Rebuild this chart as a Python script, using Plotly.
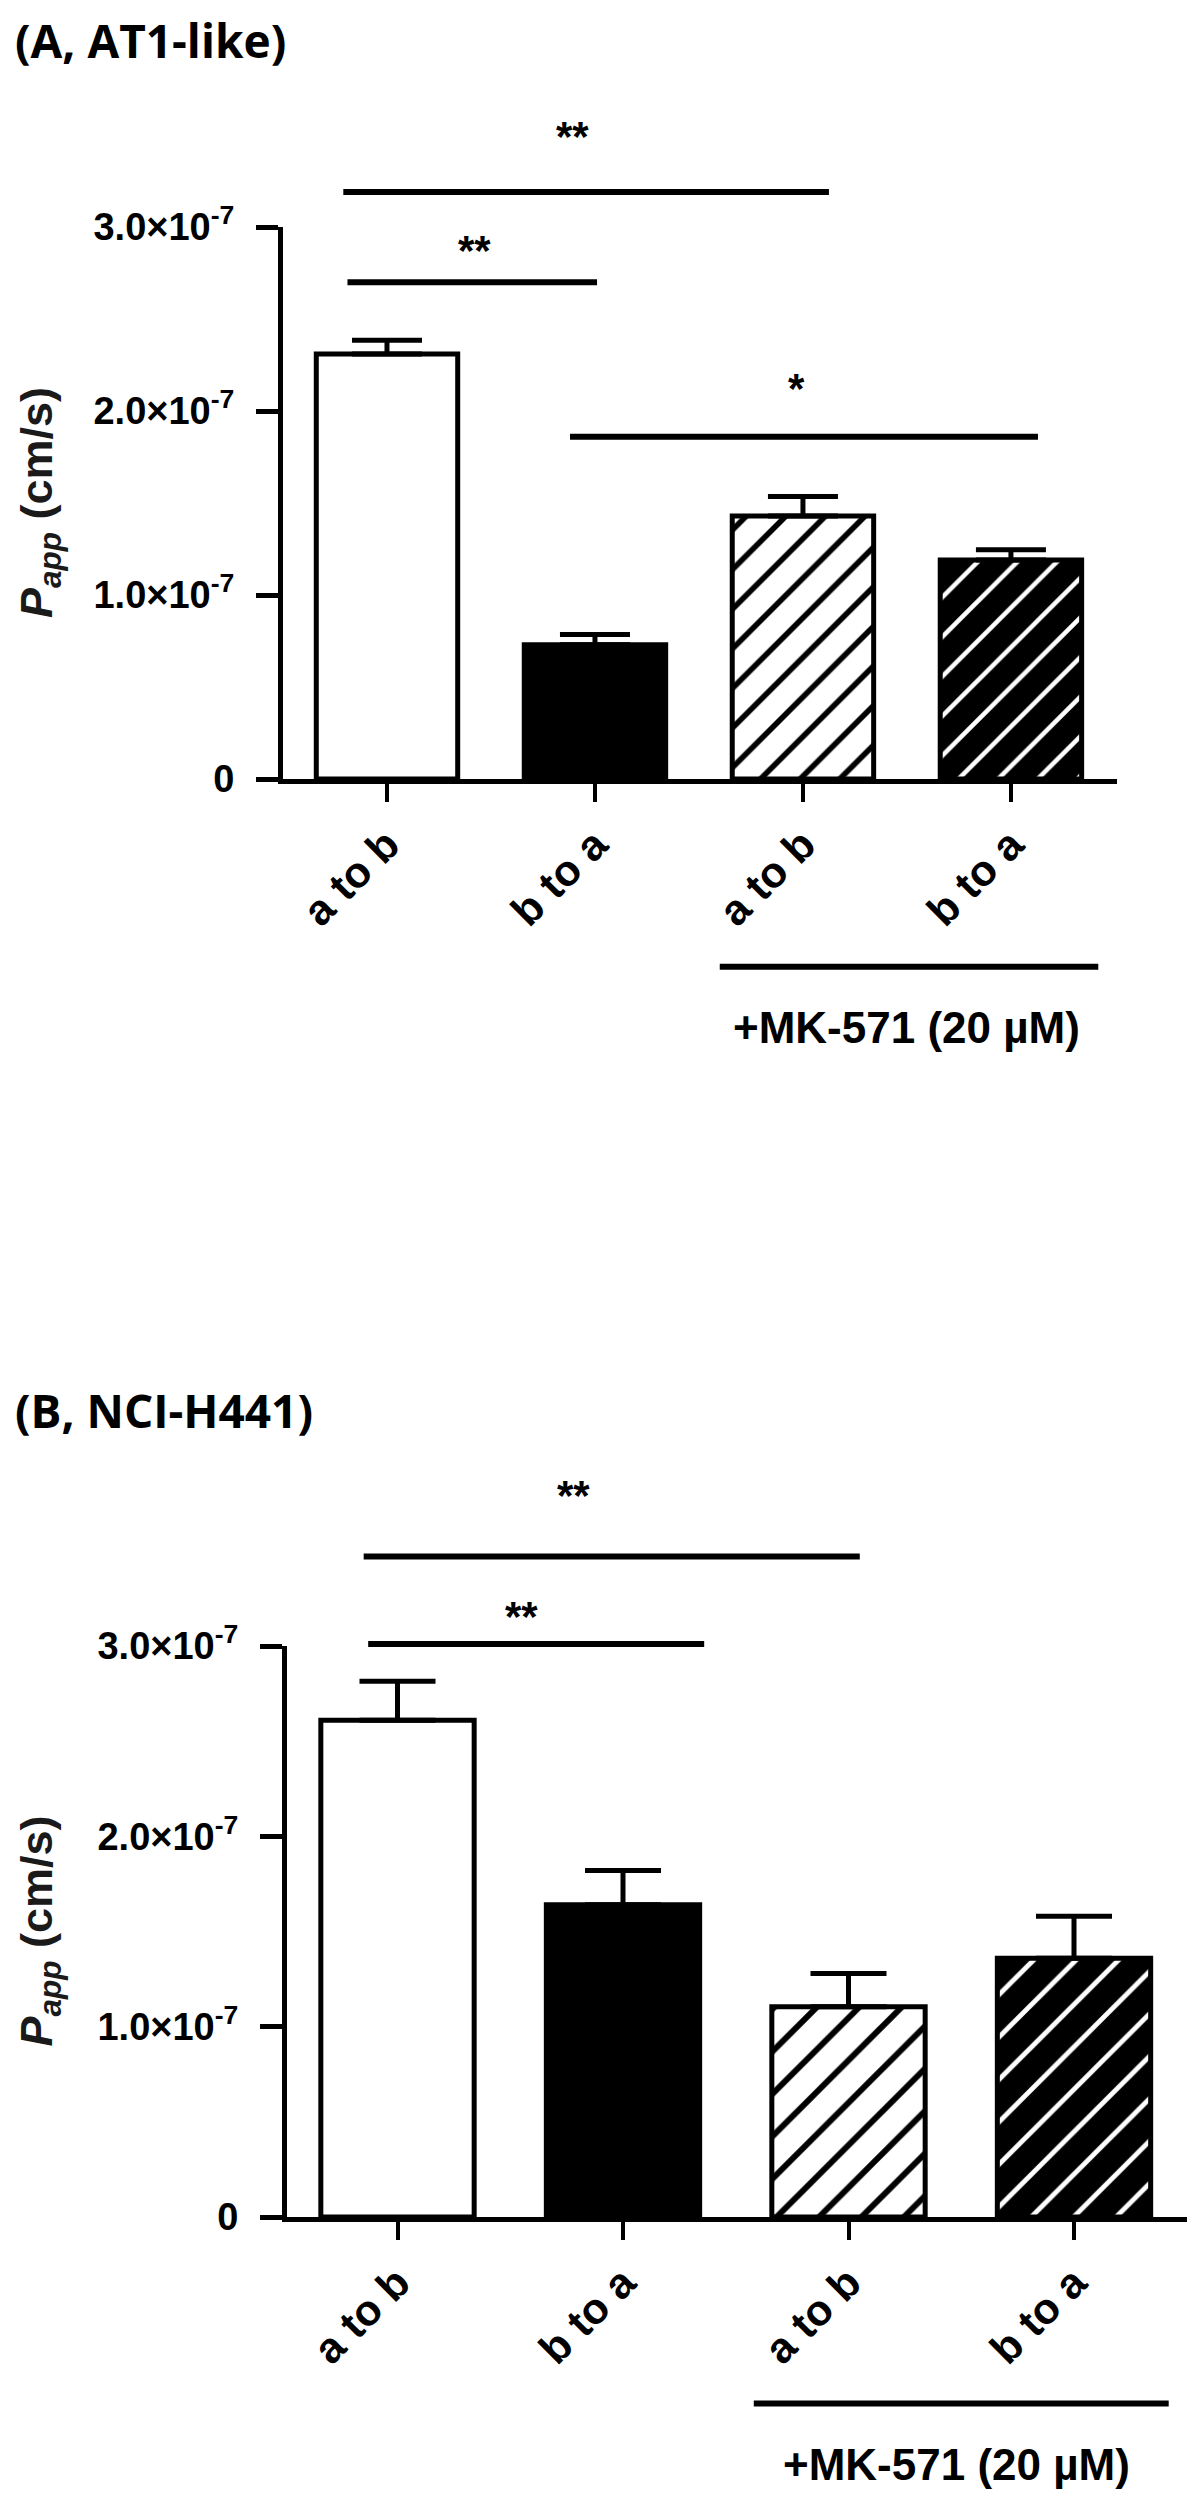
import plotly.graph_objects as go

# ---------------- data ----------------
categories = ["a to b", "b to a", "a to b", "b to a"]
x_pos = [0, 1, 2, 3]

a_means = [2.31e-7, 0.73e-7, 1.43e-7, 1.19e-7]
a_sem = [0.075e-7, 0.056e-7, 0.105e-7, 0.056e-7]
b_means = [2.61e-7, 1.64e-7, 1.105e-7, 1.36e-7]
b_sem = [0.205e-7, 0.18e-7, 0.174e-7, 0.22e-7]

y_tickvals = [0, 1e-7, 2e-7, 3e-7]
y_ticktext = ["0", "1.0\u00d710<sup>-7</sup>", "2.0\u00d710<sup>-7</sup>", "3.0\u00d710<sup>-7</sup>"]

# significance brackets: x0, x1, y, label, label_x, label_y
a_sig_x0 = [-0.19, -0.21, 0.88]
a_sig_x1 = [1.01, 2.125, 3.13]
a_sig_y = [2.70e-7, 3.19e-7, 1.86e-7]
a_sig_lbl = ["**", "**", "*"]
a_sig_lx = [0.42, 0.89, 1.97]
a_sig_ly = [2.92e-7, 3.54e-7, 2.17e-7]

b_sig_x0 = [-0.13, -0.15]
b_sig_x1 = [1.36, 2.05]
b_sig_y = [3.01e-7, 3.47e-7]
b_sig_lbl = ["**", "**"]
b_sig_lx = [0.55, 0.78]
b_sig_ly = [3.20e-7, 3.84e-7]

# treatment group bracket below axis
a_mk = dict(x0=1.60, x1=3.42, y=-1.02e-7, lx=2.5, ly=-1.35e-7)
b_mk = dict(x0=1.58, x1=3.42, y=-0.98e-7, lx=2.48, ly=-1.30e-7)
mk_label = "+MK-571 (20 \u00b5M)"

panel_titles = ["(A, AT1-like)", "(B, NCI-H441)"]
y_title = "<i>P</i><sub><i>app</i></sub> (cm/s)"

# bar styles (fill, pattern shape, pattern fg)
bar_bg = ["white", "black", "white", "black"]
bar_shape = ["", "", "/", "/"]
bar_fg = ["black", "black", "black", "white"]
bar_sol = [0.2, 0.2, 0.2, 0.16]

# ---------------- layout constants (page pixels) ----------------
PAGE_W, PAGE_H = 1195, 2497
OFF = 8  # default body margin of the html page
W, H = PAGE_W - OFF, PAGE_H - OFF
FONT = "Liberation Sans, Arial, sans-serif"
TITLE_FONT = "Open Sans, Liberation Sans, sans-serif"

panels = [
    dict(xl=283, xr=1117, zero=779, three=227, top=60, bot=1075,
         means=a_means, sem=a_sem, sx0=a_sig_x0, sx1=a_sig_x1, sy=a_sig_y,
         sl=a_sig_lbl, slx=a_sig_lx, sly=a_sig_ly, mk=a_mk, title_top=OFF,
         xrange=[-0.5, 3.51], cap=35, pat=28),
    dict(xl=287, xr=1189, zero=2217, three=1646, top=1450, bot=2497,
         means=b_means, sem=b_sem, sx0=b_sig_x0, sx1=b_sig_x1, sy=b_sig_y,
         sl=b_sig_lbl, slx=b_sig_lx, sly=b_sig_ly, mk=b_mk, title_top=1378,
         xrange=[-0.49, 3.51], cap=38, pat=30),
]


def py(px):
    return 1 - (px - OFF) / H


def pxp(px):
    return (px - OFF) / W


fig = go.Figure()
layout = dict(
    width=W, height=H,
    margin=dict(l=0, r=0, t=0, b=0, pad=0, autoexpand=False),
    paper_bgcolor="white", plot_bgcolor="rgba(0,0,0,0)",
    showlegend=False, barmode="overlay",
    font=dict(family=FONT, color="black"),
)
shapes = []
annotations = []

for i, p in enumerate(panels):
    xa = "x" if i == 0 else "x%d" % (i + 1)
    ya_main = "y" if i == 0 else "y%d" % (2 * i + 1)
    ya_ann = "y%d" % (2 * i + 2)
    xkey = "xaxis" if i == 0 else "xaxis%d" % (i + 1)
    ykey_main = "yaxis" if i == 0 else "yaxis%d" % (2 * i + 1)
    ykey_ann = "yaxis%d" % (2 * i + 2)

    ppu = (p["zero"] - p["three"]) / 3e-7
    bot = min(p["bot"], PAGE_H)
    ann_range = [-(bot - p["zero"]) / ppu, (p["zero"] - p["top"]) / ppu]

    for k in range(4):
        marker = dict(color=bar_bg[k], line=dict(color="black", width=5))
        if bar_shape[k]:
            marker["pattern"] = dict(shape=bar_shape[k], bgcolor=bar_bg[k],
                                     fgcolor=bar_fg[k], size=p["pat"],
                                     solidity=bar_sol[k], fillmode="replace")
        fig.add_trace(go.Bar(
            x=[x_pos[k]], y=[p["means"][k]], xaxis=xa, yaxis=ya_main,
            width=0.68, marker=marker,
            error_y=dict(type="data", symmetric=False, array=[p["sem"][k]],
                         arrayminus=[0], color="black",
                         thickness=5, width=p["cap"]),
            hoverinfo="skip",
        ))
    # invisible trace to create the annotation subplot
    fig.add_trace(go.Scatter(x=[None], y=[None], xaxis=xa, yaxis=ya_ann,
                             mode="markers", hoverinfo="skip"))

    layout[xkey] = dict(
        domain=[pxp(p["xl"]), min(pxp(p["xr"]), 1)], range=p["xrange"], anchor=ya_main,
        showline=True, linecolor="black", linewidth=5, mirror=False,
        ticks="outside", ticklen=18, tickwidth=4, tickcolor="black",
        tickvals=x_pos, ticktext=categories, tickangle=-45, automargin=False,
        tickfont=dict(family=FONT, size=43, color="black", weight="bold"),
        showgrid=False, zeroline=False, fixedrange=True,
    )
    layout[ykey_main] = dict(
        domain=[py(p["zero"]), py(p["three"])], range=[0, 3e-7], anchor=xa,
        showline=True, linecolor="black", linewidth=5, automargin=False,
        ticks="outside", ticklen=22, tickwidth=5, tickcolor="black",
        tickvals=y_tickvals, ticktext=y_ticktext, ticklabelstandoff=14,
        tickfont=dict(family=FONT, size=38, color="black", weight="bold"),
        showgrid=False, zeroline=False, fixedrange=True,
    )
    layout[ykey_ann] = dict(
        domain=[py(bot), py(p["top"])], range=ann_range, anchor=xa,
        visible=False, showgrid=False, zeroline=False, fixedrange=True,
        automargin=False,
    )

    for x0, x1, yv in zip(p["sx0"], p["sx1"], p["sy"]):
        shapes.append(dict(type="line", xref=xa, yref=ya_ann, x0=x0, x1=x1,
                           y0=yv, y1=yv, line=dict(color="black", width=6)))
    for lbl, lx, ly in zip(p["sl"], p["slx"], p["sly"]):
        annotations.append(dict(xref=xa, yref=ya_ann, x=lx, y=ly, text=lbl,
                                showarrow=False, xanchor="center", yanchor="middle",
                                yshift=-9,
                                font=dict(family=FONT, size=42, color="black", weight="bold")))
    mk = p["mk"]
    shapes.append(dict(type="line", xref=xa, yref=ya_ann, x0=mk["x0"], x1=mk["x1"],
                       y0=mk["y"], y1=mk["y"], line=dict(color="black", width=6)))
    annotations.append(dict(xref=xa, yref=ya_ann, x=mk["lx"], y=mk["ly"], text=mk_label,
                            showarrow=False, xanchor="center", yanchor="middle",
                            font=dict(family=FONT, size=44, color="black", weight="bold")))
    # panel title
    annotations.append(dict(xref="paper", yref="paper", x=pxp(14), y=py(p["title_top"]),
                            text=panel_titles[i], showarrow=False,
                            xanchor="left", yanchor="top", borderpad=0,
                            font=dict(family=TITLE_FONT, size=46, color="black", weight="bold")))
    # y-axis title
    annotations.append(dict(xref="paper", yref=ya_main + " domain", x=pxp(39), y=0.5,
                            text=y_title, textangle=-90, showarrow=False,
                            xanchor="center", yanchor="middle",
                            font=dict(family=FONT, size=45, color="#1a1a1a", weight="bold")))

layout["shapes"] = shapes
layout["annotations"] = annotations
fig.update_layout(**layout)
fig.write_html("out.html")
